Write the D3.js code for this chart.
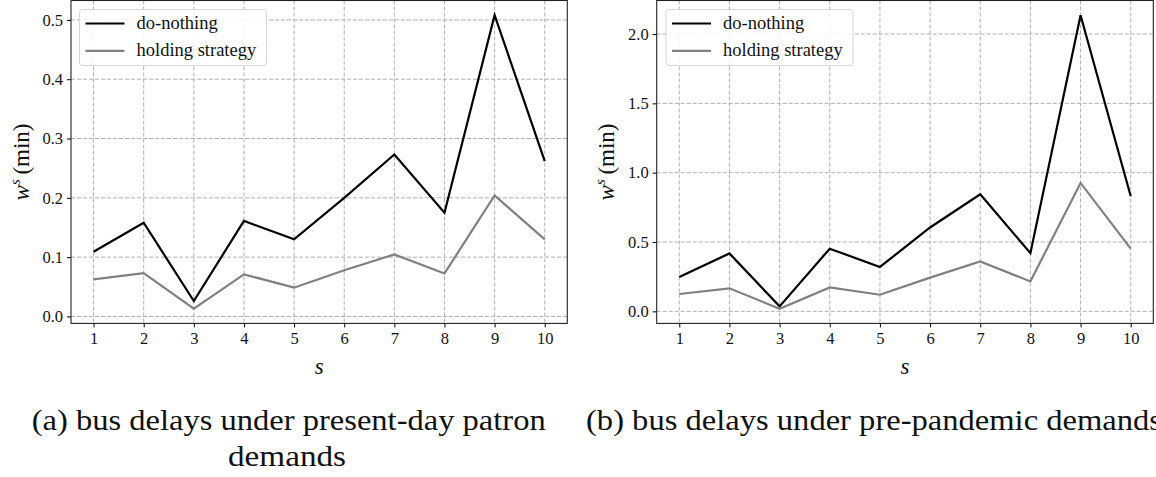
<!DOCTYPE html>
<html>
<head>
<meta charset="utf-8">
<script src="https://cdn.jsdelivr.net/npm/d3@7"></script>
<style>
  html, body { margin: 0; padding: 0; background: #fff; }
  svg { display: block; }
  text { font-family: "Liberation Serif", "DejaVu Serif", serif; }
</style>
</head>
<body>
<svg id="chart" width="1156" height="477"></svg>
<script>
// ---------- data ----------
const stops = [1, 2, 3, 4, 5, 6, 7, 8, 9, 10];
const seriesNames = ["do-nothing", "holding strategy"];
const seriesColors = ["#000000", "#808080"];

const doNothingA = [0.109, 0.158, 0.026, 0.161, 0.130, 0.200, 0.273, 0.175, 0.508, 0.262];
const holdingA   = [0.0625, 0.073, 0.013, 0.071, 0.0485, 0.078, 0.1045, 0.0725, 0.204, 0.130];

const doNothingB = [0.247, 0.418, 0.036, 0.452, 0.320, 0.605, 0.844, 0.420, 2.136, 0.830];
const holdingB   = [0.125, 0.166, 0.019, 0.173, 0.120, 0.243, 0.360, 0.216, 0.926, 0.452];

const yTicksA = [0.0, 0.1, 0.2, 0.3, 0.4, 0.5];
const yTicksB = [0.0, 0.5, 1.0, 1.5, 2.0];

const captionA = ["(a) bus delays under present-day patron", "demands"];
const captionB = ["(b) bus delays under pre-pandemic demands"];

// ---------- drawing ----------
const svg = d3.select("#chart");

function drawPanel(cfg) {
  const { left, right, top, bottom, series, yTicks } = cfg;
  const all = series.flat();
  const lo = d3.min(all), hi = d3.max(all);
  const m = (hi - lo) * 0.05;
  const x = d3.scaleLinear().domain([stops[0] - 0.45, stops[stops.length - 1] + 0.45]).range([left, right]);
  const y = d3.scaleLinear().domain([lo - m, hi + m]).range([bottom, top]);

  const g = svg.append("g");

  // grid
  const grid = g.append("g").attr("stroke", "#b0b0b0").attr("stroke-width", 1)
    .attr("stroke-dasharray", "4,2").attr("fill", "none");
  grid.selectAll(".gx").data(stops).join("line")
    .attr("x1", d => x(d)).attr("x2", d => x(d)).attr("y1", top).attr("y2", bottom);
  grid.selectAll(".gy").data(yTicks).join("line")
    .attr("x1", left).attr("x2", right).attr("y1", d => y(d)).attr("y2", d => y(d));

  // axes
  const xAxis = d3.axisBottom(x).tickValues(stops).tickFormat(d3.format("d")).tickSizeOuter(0).tickSize(4).tickPadding(5);
  const yAxis = d3.axisLeft(y).tickValues(yTicks).tickFormat(d3.format(".1f")).tickSizeOuter(0).tickSize(4).tickPadding(4);
  const gx = g.append("g").attr("transform", `translate(0,${bottom})`).call(xAxis);
  const gy = g.append("g").attr("transform", `translate(${left},0)`).call(yAxis);
  [gx, gy].forEach(a => {
    a.select(".domain").remove();
    a.selectAll("line").attr("stroke", "#000").attr("stroke-width", 1);
    a.selectAll("text").attr("font-family", "'Liberation Serif', serif").attr("font-size", 16.5).attr("fill", "#111");
  });

  // lines
  const line = d3.line().x((d, i) => x(stops[i])).y(d => y(d));
  series.forEach((s, k) => {
    g.append("path").datum(s).attr("d", line).attr("fill", "none")
      .attr("stroke", seriesColors[k]).attr("stroke-width", 2.2).attr("stroke-linejoin", "miter");
  });

  // frame
  g.append("rect").attr("x", left).attr("y", top).attr("width", right - left).attr("height", bottom - top)
    .attr("fill", "none").attr("stroke", "#222").attr("stroke-width", 1.1);

  // legend
  const lx = cfg.legendX, ly = 9.5;
  const lg = g.append("g");
  lg.append("rect").attr("x", lx).attr("y", ly).attr("width", 187).attr("height", 56).attr("rx", 3)
    .attr("fill", "rgba(255,255,255,0.85)").attr("stroke", "#d6d6d6").attr("stroke-width", 1);
  seriesNames.forEach((n, k) => {
    const yy = ly + 14 + k * 27.4;
    lg.append("line").attr("x1", lx + 6).attr("x2", lx + 45).attr("y1", yy).attr("y2", yy)
      .attr("stroke", seriesColors[k]).attr("stroke-width", 2.2);
    lg.append("text").attr("x", lx + 57).attr("y", yy + 5).attr("font-size", 18.5).attr("fill", "#111").text(n);
  });

  // x label
  g.append("text").attr("x", (left + right) / 2).attr("y", 374).attr("text-anchor", "middle")
    .attr("font-size", 23).attr("font-style", "italic").attr("fill", "#111").text("s");

  // y label
  const yl = g.append("text").attr("transform", `translate(${cfg.yLabelX},${(top + bottom) / 2}) rotate(-90)`)
    .attr("text-anchor", "middle").attr("font-size", 23).attr("fill", "#111");
  yl.append("tspan").attr("font-style", "italic").text("w");
  yl.append("tspan").attr("font-style", "italic").attr("font-size", 15).attr("dy", -9).text("s");
  yl.append("tspan").attr("dy", 9).text("\u2009(min)");
}

drawPanel({ left: 71, right: 567.3, top: 0.5, bottom: 323.4, series: [doNothingA, holdingA], yTicks: yTicksA, legendX: 79.5, yLabelX: 29 });
drawPanel({ left: 656.7, right: 1153.3, top: 0.5, bottom: 323.4, series: [doNothingB, holdingB], yTicks: yTicksB, legendX: 666, yLabelX: 614 });

// captions
const cap = svg.append("g").attr("font-family", "'Liberation Serif', serif").attr("font-size", 28.5).attr("fill", "#111");
const capA = [{ x: 31.7, y: 430, w: 514 }, { x: 228, y: 466, w: 118 }];
captionA.forEach((t, i) => {
  cap.append("text").attr("x", capA[i].x).attr("y", capA[i].y)
    .attr("textLength", capA[i].w).attr("lengthAdjust", "spacingAndGlyphs").text(t);
});
captionB.forEach((t, i) => {
  cap.append("text").attr("x", 586).attr("y", 430 + i * 36)
    .attr("textLength", 576).attr("lengthAdjust", "spacingAndGlyphs").text(t);
});
</script>
</body>
</html>
